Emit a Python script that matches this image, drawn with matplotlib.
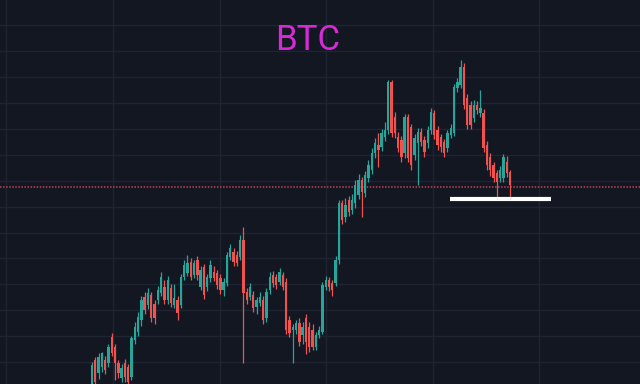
import numpy as np
import matplotlib
matplotlib.use("Agg")
import matplotlib.pyplot as plt
from matplotlib.ticker import MultipleLocator

# candle data (arbitrary price units)
o = [0, 24, 11, 17, 24, 21, 47, 37, 21, 6, 21, 17, 7, 44, 52, 64, 87, 79, 89, 80,
     84, 91, 97, 84, 96, 79, 84, 79, 107, 111, 122, 109,
     124, 97, 117, 97, 106, 112, 111, 106, 94, 101, 127, 132, 129, 127, 144, 92, 87, 89,
     77, 81, 84, 66, 94, 109, 107, 102, 109, 102, 64, 54, 54,
     61, 49, 66, 57, 54, 37, 49, 52, 97, 104, 101, 101,
     124, 181, 167, 184, 174, 181, 189, 204, 191, 206, 214, 231, 239, 237, 247, 254, 302, 267, 247, 244, 231,
     267, 257, 229, 241, 252, 244, 241, 254, 271, 254, 247, 242, 236, 249, 251, 296, 299, 317, 286, 279,
     266, 279, 271, 271, 239, 227, 219, 211, 206, 206, 222, 212]
c = [19, 2, 27, 31, 14, 37, 31, 21, 11, 16, 7, 2, 46, 57, 67, 84, 74, 91, 66, 66,
     94, 107, 84, 104, 81, 86, 71, 107, 119, 121, 107, 121,
     109, 114, 89, 107, 119, 106, 99, 94, 102, 129, 136, 122, 121, 144, 91, 84, 97, 76,
     84, 87, 64, 92, 107, 101, 99, 112, 97, 54, 51, 57, 61,
     42, 57, 42, 37, 37, 49, 54, 99, 104, 97, 94, 124,
     181, 164, 179, 172, 184, 199, 204, 192, 209, 219, 231, 241, 234, 251, 254, 302, 251, 251, 236, 227, 267,
     226, 219, 246, 252, 242, 232, 254, 272, 249, 239, 237, 231, 251, 256, 297, 302, 317, 279, 259, 259,
     279, 274, 276, 236, 219, 214, 206, 202, 214, 227, 211, 199]
h = [22, 27, 31, 32, 28, 40, 51, 40, 24, 20, 25, 20, 48, 62, 72, 88, 92, 96, 92, 84,
     98, 112, 104, 108, 100, 100, 88, 110, 124, 129, 126, 124,
     128, 118, 120, 110, 124, 118, 114, 110, 106, 132, 140, 136, 133, 149, 157, 96, 101, 93,
     87, 92, 88, 96, 112, 113, 110, 116, 112, 106, 68, 60, 64,
     66, 62, 70, 62, 60, 52, 58, 102, 108, 107, 104, 128,
     184, 184, 186, 188, 190, 204, 210, 207, 213, 224, 236, 246, 251, 255, 262, 304, 304, 272, 252, 248, 270,
     270, 260, 250, 256, 256, 248, 258, 276, 274, 258, 250, 245, 254, 260, 300, 306, 324, 321, 290, 283,
     284, 283, 294, 275, 243, 231, 222, 214, 218, 230, 228, 214]
l = [-6, -4, 5, 12, 10, 17, 28, 4, 6, 2, 2, -3, 4, 40, 48, 58, 70, 75, 62, 60,
     80, 88, 80, 80, 77, 76, 64, 76, 104, 108, 104, 106,
     104, 94, 85, 93, 102, 103, 95, 90, 88, 98, 124, 118, 118, 124, 21, 80, 84, 72,
     70, 78, 60, 62, 90, 97, 95, 99, 94, 50, 47, 21, 50,
     38, 40, 30, 32, 34, 34, 46, 50, 94, 93, 88, 98,
     120, 160, 162, 168, 170, 176, 185, 167, 187, 202, 210, 226, 217, 233, 243, 250, 247, 246, 232, 222, 226,
     222, 214, 224, 199, 238, 227, 236, 250, 245, 234, 232, 227, 232, 246, 248, 292, 296, 275, 255, 255,
     262, 270, 267, 232, 214, 208, 202, 186, 202, 202, 207, 186]

support = 197      # red dotted level
neckline = 185     # white level
neck_from, neck_to = 108.8, 139.5

o = np.array(o); c = np.array(c); h = np.array(h); l = np.array(l)
x = np.arange(len(o))
up = c >= o
col = np.where(up, '#26a69a', '#ef5350')

fig = plt.figure(figsize=(6.4, 3.84), dpi=100)
fig.patch.set_facecolor('#131722')
ax = fig.add_axes([0, 0, 1, 1])
ax.set_facecolor('#131722')

ax.vlines(x, l, h, colors=col, lw=0.9, zorder=3)
ax.bar(x, np.maximum(np.abs(c - o), 0.8), bottom=np.minimum(o, c), width=0.72,
       color=col, zorder=4, linewidth=0)

ax.axhline(support, color='#c23f5c', lw=1.1, ls=(0, (1, 1)), zorder=2)
ax.hlines(neckline, neck_from, neck_to, color='white', lw=3, zorder=5)

ax.text(0.481, 0.895, 'BTC', transform=ax.transAxes, ha='center', va='center',
        color='#d62ad8', fontsize=25, family='Roboto')

sp = 418 / 127
ax.set_xlim(-92 / sp, (640 - 92) / sp)
ax.set_ylim(0, 384)
ax.xaxis.set_major_locator(MultipleLocator(106.6 / sp, offset=21 / sp))
ax.yaxis.set_major_locator(MultipleLocator(25.9, offset=22))
ax.grid(True, color='#1f2433', lw=1)
ax.tick_params(length=0, labelbottom=False, labelleft=False)
for s in ax.spines.values():
    s.set_visible(False)

fig.savefig('out.png', dpi=100, facecolor=fig.get_facecolor())
